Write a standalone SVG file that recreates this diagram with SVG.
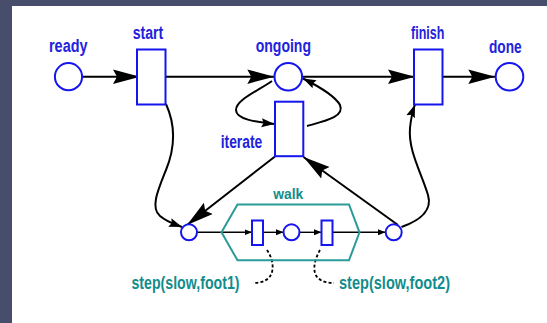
<svg xmlns="http://www.w3.org/2000/svg" width="547" height="323" viewBox="0 0 547 323">
<style>
.pl{fill:#fff;stroke:#1515ee;stroke-width:2}
.tr{fill:#fff;stroke:#1515ee;stroke-width:2}
.lb{font-family:"Liberation Sans",Arial,sans-serif;font-size:18px;font-weight:bold;fill:#2222dd}
.tl{font-family:"Liberation Sans",Arial,sans-serif;font-size:18px;font-weight:bold;fill:#128c8c}
.arc{fill:none;stroke:#000;stroke-width:2}
.thin{fill:none;stroke:#000;stroke-width:1.4}
.dash{fill:none;stroke:#000;stroke-width:1.8;stroke-dasharray:3,2.2}
</style>
<defs>
<marker id="big" markerUnits="userSpaceOnUse" markerWidth="28" markerHeight="16" refX="27" refY="8" orient="auto" viewBox="0 0 28 16">
<path d="M0,0.8 L27,8 L0,15.2 L4,8 z" fill="#000"/>
</marker>
<marker id="med" markerUnits="userSpaceOnUse" markerWidth="14" markerHeight="10" refX="13" refY="5" orient="auto" viewBox="0 0 14 10">
<path d="M0,0.5 L13,5 L0,9.5 L2,5 z" fill="#000"/>
</marker>
<marker id="sm" markerUnits="userSpaceOnUse" markerWidth="8" markerHeight="7" refX="7.5" refY="3.5" orient="auto" viewBox="0 0 8 7">
<path d="M0,0.5 L7.5,3.5 L0,6.5 z" fill="#000"/>
</marker>
</defs>
<rect x="0" y="0" width="547" height="323" fill="#474e6b"/>
<rect x="12" y="6" width="535" height="317" fill="#fff"/>

<g id="connectors">
<path class="arc" d="M82.5,76.7 L140,76.7" marker-end="url(#big)"/>
<path class="arc" d="M165.7,76.7 L274.3,76.7" marker-end="url(#big)"/>
<path class="arc" d="M302.3,76.7 L415,76.7" marker-end="url(#big)"/>
<path class="arc" d="M442.3,76.7 L495.3,76.7" marker-end="url(#big)"/>
<path class="arc" d="M272,81 C256,92 236,100 236,110 C236,119 255,122 274.5,124" marker-end="url(#med)"/>
<path class="arc" d="M307,126 C325,121 345,117 340,105 C335,96 318,86 303,78.5" marker-end="url(#med)"/>
<path class="arc" d="M166,104 C176,126 175,148 166,170 C158,190 150,208 160,216 C167,222 174,224 182,227" marker-end="url(#med)"/>
<path class="arc" d="M275,156.5 L187,225" marker-end="url(#big)"/>
<path class="arc" d="M398,225 L303.5,157" marker-end="url(#big)"/>
<path class="arc" d="M401.5,227 C418,221 433,212 428,195 C421,172 408,150 410,128 C411,118 413,110 415,104.5" marker-end="url(#med)"/>
<path class="thin" d="M197,232.3 L252,232.3" marker-end="url(#sm)"/>
<path class="thin" d="M263,232.3 L283.5,232.3" marker-end="url(#sm)"/>
<path class="thin" d="M299.5,232.3 L321.5,232.3" marker-end="url(#sm)"/>
<path class="thin" d="M332.5,232.3 L385.5,232.3" marker-end="url(#sm)"/>
<path class="dash" d="M267,250 C271,256 274,264 272,272 C270,280 262,283 253,283"/>
<path class="dash" d="M320,250 C316,257 313,266 315,273 C317,280 325,283 334,283"/>
</g>

<g id="ready">
<circle class="pl" cx="68.5" cy="76.7" r="13.6"/>
<text class="lb" x="49" y="51.7" textLength="38.5" lengthAdjust="spacingAndGlyphs">ready</text>
</g>
<g id="start">
<rect class="tr" x="137" y="49.5" width="28.5" height="55"/>
<text class="lb" x="132.7" y="39" textLength="30.6" lengthAdjust="spacingAndGlyphs">start</text>
</g>
<g id="ongoing">
<circle class="pl" cx="288.3" cy="76.7" r="13.8"/>
<text class="lb" x="255.7" y="51.7" textLength="55.3" lengthAdjust="spacingAndGlyphs">ongoing</text>
</g>
<g id="finish">
<rect class="tr" x="414" y="49.5" width="28.5" height="55"/>
<text class="lb" x="411" y="39" textLength="33.3" lengthAdjust="spacingAndGlyphs">finish</text>
</g>
<g id="done">
<circle class="pl" cx="509.5" cy="76.7" r="13.8"/>
<text class="lb" x="489" y="53.3" textLength="32.7" lengthAdjust="spacingAndGlyphs">done</text>
</g>
<g id="iterate">
<rect class="tr" x="275" y="101.7" width="28.3" height="54.5"/>
<text class="lb" x="220.7" y="148.3" textLength="41.6" lengthAdjust="spacingAndGlyphs">iterate</text>
</g>
<g id="walk">
<polygon points="221.5,232.3 237.5,204.5 349,204.5 359.5,232.3 349,260.3 237.5,260.3" fill="none" stroke="#2a9a9a" stroke-width="2"/>
<text class="tl" x="273.3" y="199" textLength="30" lengthAdjust="spacingAndGlyphs" style="font-size:15px">walk</text>
</g>
<g id="p-left">
<circle class="pl" cx="189" cy="232.3" r="8"/>
</g>
<g id="step1">
<rect class="tr" x="252" y="220.5" width="11" height="24.5"/>
</g>
<g id="p-mid">
<circle class="pl" cx="291.5" cy="232.3" r="8"/>
</g>
<g id="step2">
<rect class="tr" x="321.5" y="220.5" width="11" height="24.5"/>
</g>
<g id="p-right">
<circle class="pl" cx="393.7" cy="232.3" r="8"/>
</g>
<g id="label-step1">
<text class="tl" x="131.5" y="289" textLength="108" lengthAdjust="spacingAndGlyphs">step(slow,foot1)</text>
</g>
<g id="label-step2">
<text class="tl" x="339" y="289" textLength="111" lengthAdjust="spacingAndGlyphs">step(slow,foot2)</text>
</g>
</svg>
